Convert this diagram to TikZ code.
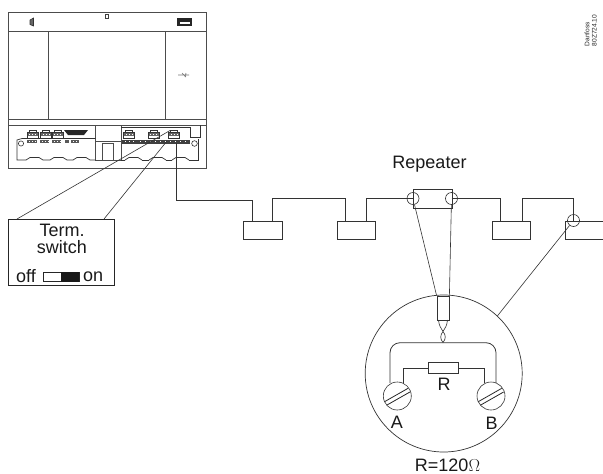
\documentclass[tikz,border=0pt]{standalone}
\usepackage{fontspec}
\setmainfont{Liberation Sans}
\tikzset{
  ln/.style={draw=black!80,line width=0.8pt},
  thin ln/.style={draw=black!80,line width=0.6pt},
  dev/.style={draw=black!70,line width=0.9pt},
  lab/.style={inner sep=0pt,font=\fontsize{18}{17}\selectfont,text=black!90},
  unit/.style={draw=black!80,line width=0.8pt,fill=white,minimum width=38.5pt,minimum height=18.5pt,inner sep=0pt},
  ring/.style={circle,draw=black!80,line width=0.6pt,minimum size=12pt,inner sep=0pt},
  screw/.style={circle,draw=black!80,line width=0.6pt,minimum size=28pt,inner sep=0pt},
}
\newcommand{\termblock}[2]{%
  \fill[white] (#1,#2) rectangle ++(11,8);
  \draw[black!80,line width=0.6pt] (#1+2,#2) rectangle ++(7,2.5);
  \draw[black!80,line width=0.6pt] (#1,#2+2.5) rectangle ++(11,6);
  \fill[black!60] (#1+.5,#2+3) rectangle ++(10,3);
  \foreach \k in {2.5,5.5,8.5}{\fill[white] (#1+\k-.5,#2+4) rectangle ++(1,1);}
}
\newcommand{\hump}[1]{%
  \draw[black!80,line width=0.7pt] (#1,160) -- (#1+4,157.5) -- (#1+13,157.5) -- (#1+17,160);
}
\begin{document}
\begin{tikzpicture}[x=1pt,y=-1pt]
\useasboundingbox (0,0) rectangle (603,474);
% controller housing
\draw[dev] (8,12) rectangle (206,168);
\draw[dev] (8,31) -- (206,31);
\draw[dev] (8,119) -- (206,119);
\draw[dev] (8,125) -- (206,125);
\draw[dev] (48.5,31) -- (48.5,119);
\draw[dev] (165.5,31) -- (165.5,119);
% top icons
\draw[black!80,line width=0.6pt,fill=black!60] (30,20) -- (33.5,18) -- (33.5,26) -- (30,24.5) -- cycle;
\draw[black!75,line width=0.7pt] (105.5,14) rectangle (108,18);
\fill[black!85] (177,18) rectangle (192,25.5);
\fill[white] (180,22) rectangle (190,24);
% usb icon
\draw[black!55,line width=0.7pt] (178,75) -- (189,75) (182,73) -- (186,77) (186,73) -- (185,77);
% central block
\draw[dev,line width=1pt] (95.5,125) -- (95.5,160.5) -- (121,160.5) -- (121,125);
\draw[dev] (95.5,141) -- (121,141);
\draw[dev] (102,143.5) rectangle (113.5,160.5);
% left board
\draw[black!80,line width=0.7pt] (95.5,138.5) -- (22,138.5) -- (17,140) -- (17,160) -- (26,160) (43,160) -- (50,160) (67,160) -- (73,160) (90,160) -- (95.5,160);
\draw[black!80,line width=0.6pt] (21,143.5) circle (2.6);
\hump{26}\hump{50}\hump{73}
\termblock{27}{130}\termblock{40.5}{130}\termblock{52}{130}
\fill[black!85] (64,130) -- (88,130) -- (84,135) -- (68,135) -- cycle;
\foreach \x/\w in {27/10,40/9,52/9,65/4,71/8}{\fill[black!65] (\x,139.5) rectangle ++(\w,3.5);}
\foreach \x in {29,32,35,42,45,48,54,57,60,73,76}{\fill[white] (\x,140.5) rectangle ++(1,1.3);}
% right board
\draw[black!80,line width=0.7pt] (121,127) -- (190,127);
\draw[black!80,line width=0.6pt] (190.5,127) -- (190.5,137) -- (200,137) -- (200,125);
\draw[black!80,line width=0.7pt] (198,139) -- (198,160) -- (189,160) (172,160) -- (166,160) (149,160) -- (142,160) (125,160) -- (121,160);
\draw[black!80,line width=0.6pt] (194.5,143.5) circle (2.8);
\hump{125}\hump{149}\hump{172}
\termblock{123.5}{130}\termblock{148}{130}\termblock{168.5}{130}
\fill[black!75] (122,139.5) rectangle (190,143.5);
\foreach \x in {125,129,133,140,145,150,155,160,165,170,175,180,185}{\fill[white] (\x,140.7) rectangle ++(1.3,1.5);}
% term switch box
\node[draw=black!85,line width=0.8pt,minimum width=106pt,minimum height=66pt,inner sep=0pt,anchor=north west] (term) at (8,219) {};
\node[lab,align=center] (termtext) at (62,239) {Term.\\switch};
\node[lab,anchor=west] (off) at (16,276.5) {off};
\node[lab,anchor=west] (on) at (83,276.5) {on};
\node[draw=black!85,line width=0.6pt,minimum width=35.5pt,minimum height=9.5pt,inner sep=0pt] (sw) at (61.2,277) {};
\fill[black!90] (60.5,272.2) rectangle (79,281.8);
\coordinate (t1) at (170,130.5);
\coordinate (t2) at (167,141);
\draw[thin ln] (t1) -- (17,219);
\draw[thin ln] (t2) -- (104,219);
% bus units
\node[unit,anchor=north west] (u1) at (243,220.5) {};
\node[unit,anchor=north west] (u2) at (336.5,220.5) {};
\node[unit,anchor=north west] (rep) at (413,189) {};
\node[unit,anchor=north west] (u3) at (491.5,220.5) {};
\node[unit,anchor=north west] (u4) at (564.5,220.5) {};
\node[lab] (replab) at (429.5,164) {Repeater};
\node[ring] (r1) at (413,198.5) {};
\node[ring] (r2) at (451.5,198.5) {};
\node[ring] (r3) at (573.5,220.5) {};
\coordinate (start) at (176.7,143);
\draw[ln] (start) -- (176.7,200.5) -- (252,200.5) -- (252,220.5);
\draw[ln] (272.5,220.5) -- (272.5,198.5) -- (345.5,198.5) -- (345.5,220.5);
\draw[ln] (366,220.5) -- (366,198.5) -- (413,198.5);
\draw[ln] (451.5,198.5) -- (500.5,198.5) -- (500.5,220.5);
\draw[ln] (522.5,220.5) -- (522.5,198.5) -- (573.5,198.5) -- (573.5,220.5);
% detail circle
\node[circle,draw=black!80,line width=0.7pt,minimum size=157pt,inner sep=0pt] (detail) at (443.7,373.5) {};
\node[draw=black!80,line width=0.8pt,minimum width=12pt,minimum height=24pt,inner sep=0pt] (plug) at (443,308) {};
\draw[thin ln] (r1) -- (plug.north west);
\draw[thin ln] (r2) -- (plug.north east);
\draw[thin ln] (detail.47) -- (r3);
% twisted wire
\draw[thin ln] (438.5,320) .. controls (439,326) and (441,328) .. (443,331.5) .. controls (445,328) and (447,326) .. (447.5,320);
\draw[thin ln] (443,331.5) .. controls (440,335) and (440,339) .. (443,342.5) .. controls (446,339) and (446,335) .. (443,331.5);
% wiring
\node[screw] (A) at (397.3,396) {};
\node[screw] (B) at (491,396) {};
\node[draw=black!80,line width=0.8pt,minimum width=30pt,minimum height=11pt,inner sep=0pt] (res) at (443.3,368) {};
\draw[ln,rounded corners=10pt] (390,383) -- (390,342.7) -- (496,342.7) -- (496,383);
\draw[ln] (403.3,383) -- (403.3,368) -- (res.west);
\draw[ln] (res.east) -- (484,368) -- (484,383);
\foreach \c in {A,B}{
  \draw[black!85,line width=0.8pt] ([shift={(-12.6,5.6)}]\c.center) -- ([shift={(10.6,-7.6)}]\c.center);
  \draw[black!85,line width=0.8pt] ([shift={(-10.6,9.2)}]\c.center) -- ([shift={(12.6,-4)}]\c.center);
}
\node[lab] (Rl) at (444,384.5) {R};
\node[lab] (Al) at (397,422.5) {A};
\node[lab] (Bl) at (491.5,423) {B};
\node[lab] (Rv) at (447.5,465.5) {R=120$\Omega$};
% code
\node[inner sep=0pt,rotate=90,anchor=north west,align=left,font=\fontsize{6.6}{7.2}\selectfont,text=black!85] (code) at (584.5,46.5) {Danfoss\\80Z724.10};
\end{tikzpicture}
\end{document}
